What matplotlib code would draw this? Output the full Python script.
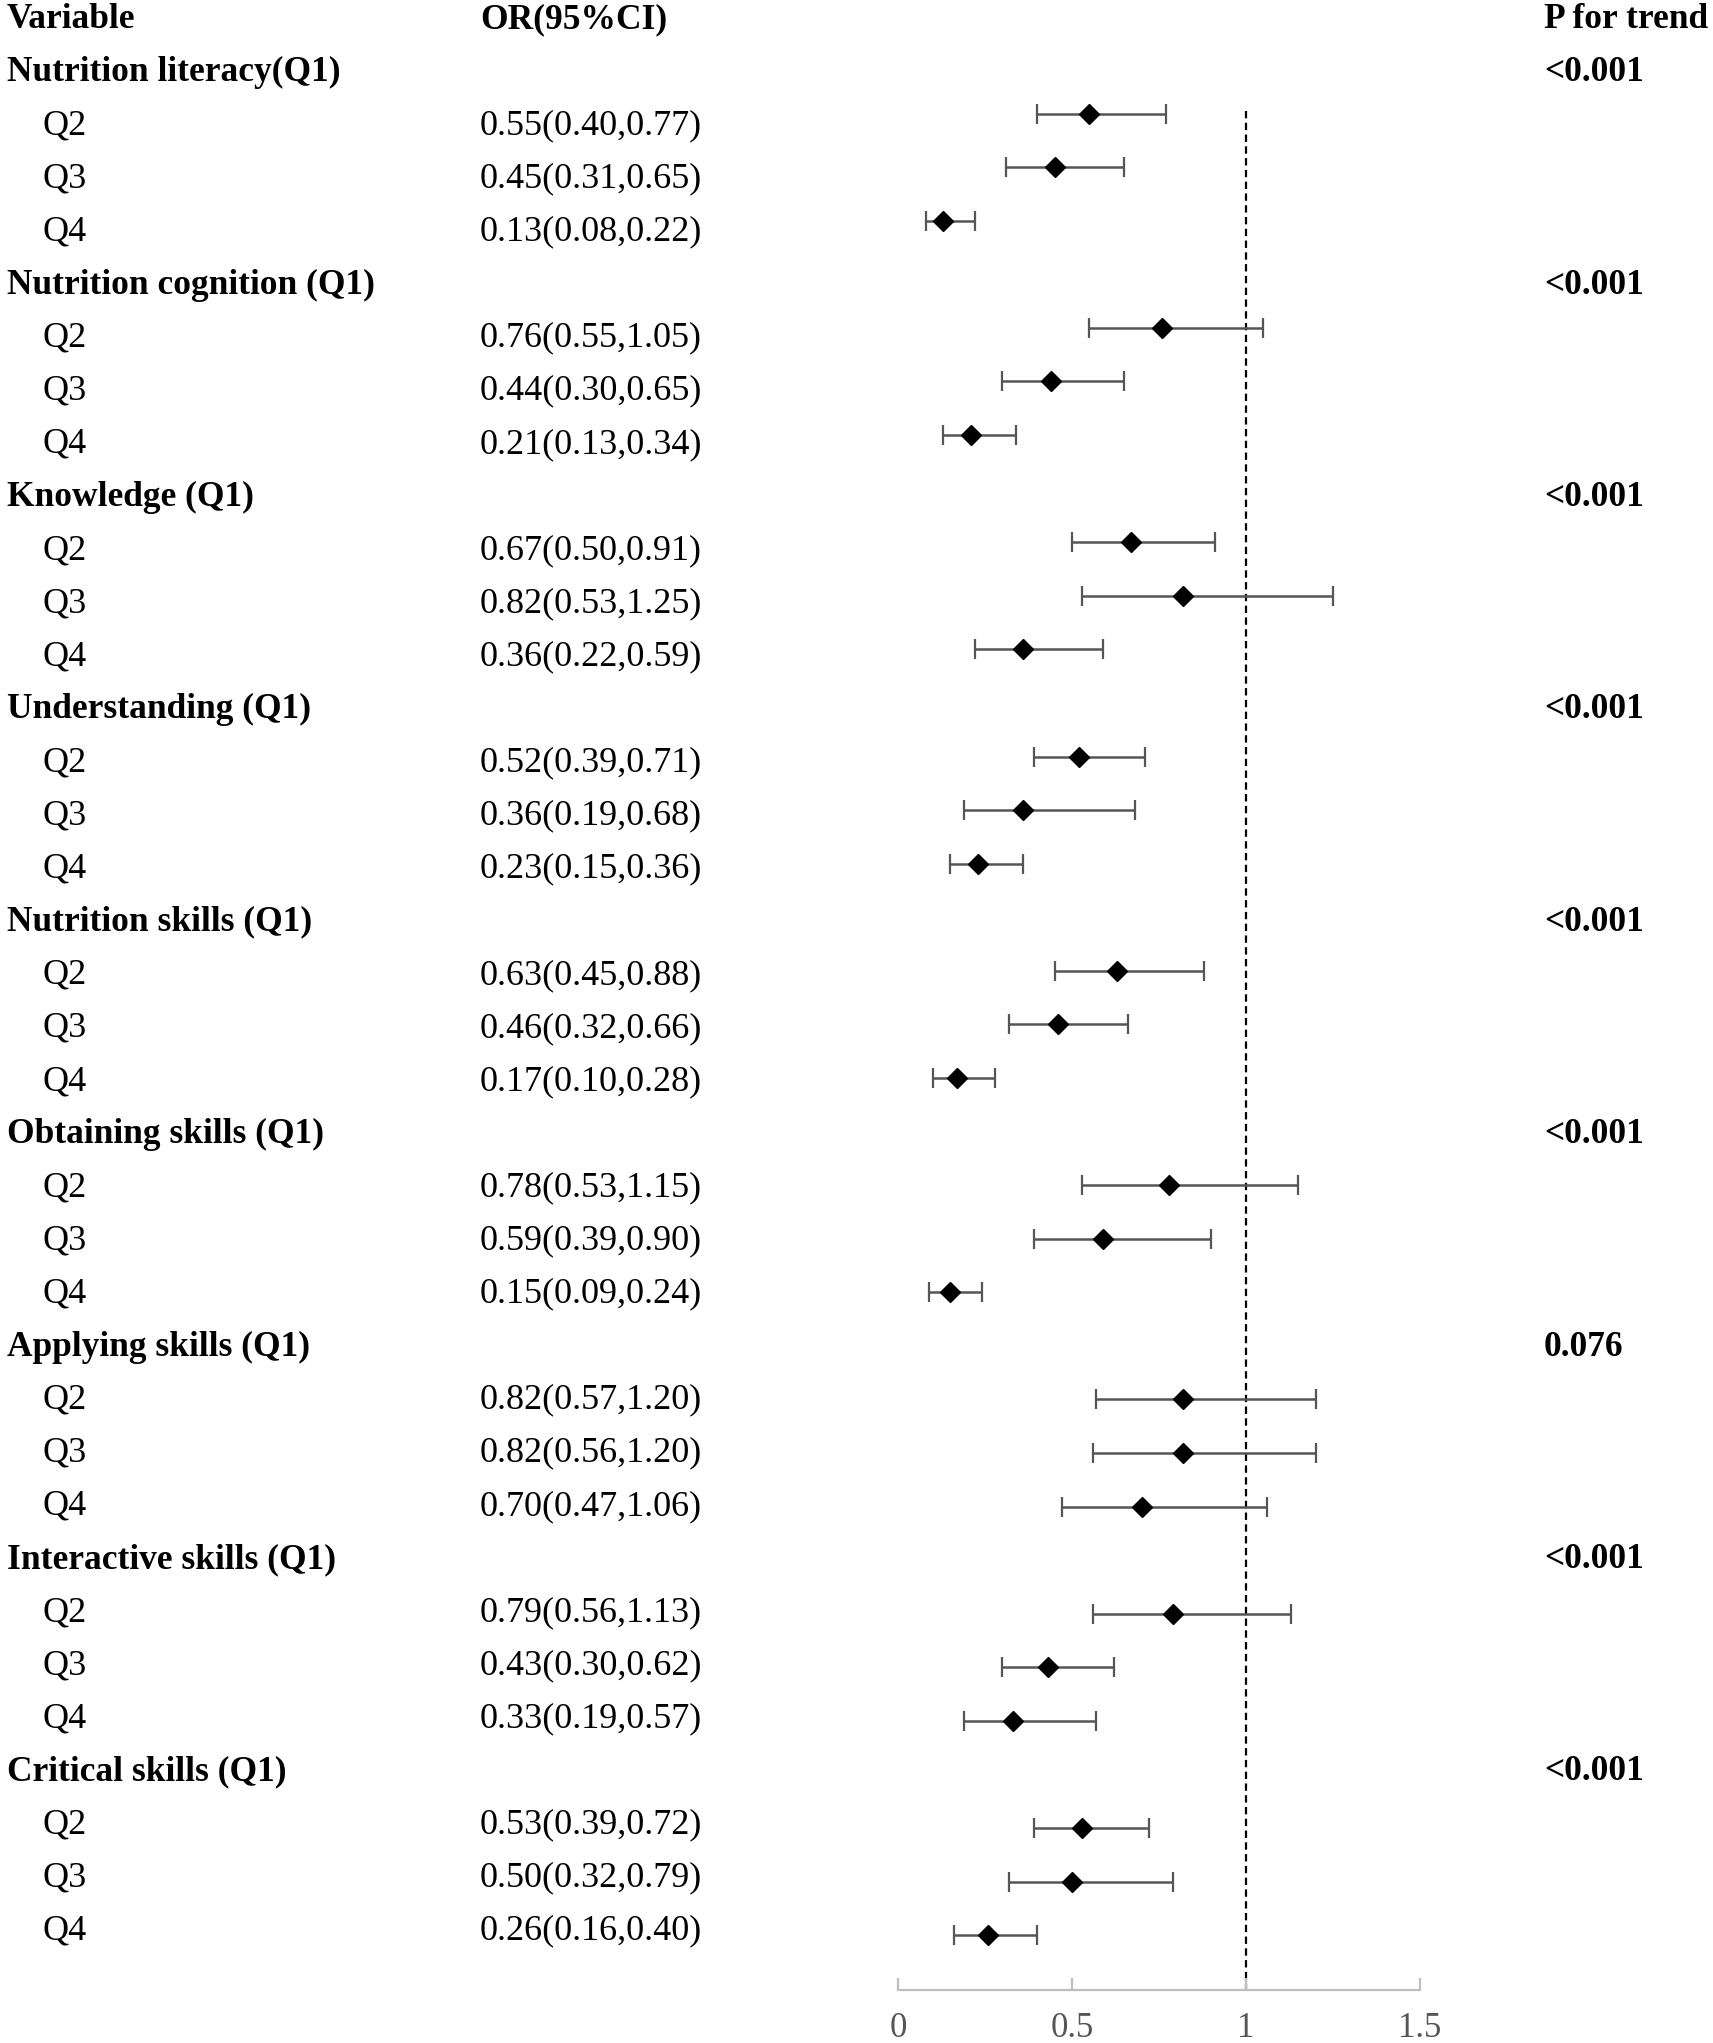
import matplotlib
matplotlib.use('Agg')
import matplotlib.pyplot as plt

# data
groups = ['Nutrition literacy(Q1)', 'Nutrition cognition (Q1)', 'Knowledge (Q1)',
          'Understanding (Q1)', 'Nutrition skills (Q1)', 'Obtaining skills (Q1)',
          'Applying skills (Q1)', 'Interactive skills (Q1)', 'Critical skills (Q1)']
p_trend = ['<0.001', '<0.001', '<0.001', '<0.001', '<0.001', '<0.001',
           '0.076', '<0.001', '<0.001']
quartiles = ['Q2', 'Q3', 'Q4']

or_vals = [0.55, 0.45, 0.13,
           0.76, 0.44, 0.21,
           0.67, 0.82, 0.36,
           0.52, 0.36, 0.23,
           0.63, 0.46, 0.17,
           0.78, 0.59, 0.15,
           0.82, 0.82, 0.70,
           0.79, 0.43, 0.33,
           0.53, 0.50, 0.26]
ci_low = [0.40, 0.31, 0.08,
          0.55, 0.30, 0.13,
          0.50, 0.53, 0.22,
          0.39, 0.19, 0.15,
          0.45, 0.32, 0.10,
          0.53, 0.39, 0.09,
          0.57, 0.56, 0.47,
          0.56, 0.30, 0.19,
          0.39, 0.32, 0.16]
ci_high = [0.77, 0.65, 0.22,
           1.05, 0.65, 0.34,
           0.91, 1.25, 0.59,
           0.71, 0.68, 0.36,
           0.88, 0.66, 0.28,
           1.15, 0.90, 0.24,
           1.20, 1.20, 1.06,
           1.13, 0.62, 0.57,
           0.72, 0.79, 0.40]
x_ticks = [0, 0.5, 1, 1.5]
x_ticklabels = ['0', '0.5', '1', '1.5']

W, H = 1713, 2043
FONT = 'Liberation Serif'
FS = 26
FS_BOLD = 25.5

fig = plt.figure(figsize=(W / 100, H / 100), dpi=100)

# axes: y in row units (row 0 = header row)
ax_top_px, ax_bot_px = 6.4, 1990
ax_left_px, ax_right_px = 898, 1420
ax = fig.add_axes([ax_left_px / W, 1 - ax_bot_px / H,
                   (ax_right_px - ax_left_px) / W, (ax_bot_px - ax_top_px) / H])
row_h = 53.58
ax.set_ylim((ax_bot_px - ax_top_px) / row_h, 0)
ax.set_xlim(0, 1.5)


def text_y(i):
    return 1 - (19.6 + 53.1 * i) / H


# header
fig.text(7 / W, text_y(0), 'Variable', family=FONT, fontsize=FS_BOLD,
         fontweight='bold', va='center')
fig.text(480 / W, text_y(0), 'OR(95%CI)', family=FONT, fontsize=FS_BOLD,
         fontweight='bold', va='center')
fig.text(1544 / W, text_y(0), 'P for trend', family=FONT, fontsize=FS_BOLD,
         fontweight='bold', va='center')

rows_y, xs, lo, hi = [], [], [], []
k = 0
for g, name in enumerate(groups):
    gi = 1 + g * 4
    fig.text(7 / W, text_y(gi), name, family=FONT, fontsize=FS_BOLD,
             fontweight='bold', va='center')
    fig.text(1544 / W, text_y(gi), p_trend[g], family=FONT, fontsize=FS_BOLD,
             fontweight='bold', va='center')
    for q, qn in enumerate(quartiles):
        ri = gi + 1 + q
        fig.text(42 / W, text_y(ri), qn, family=FONT, fontsize=FS, va='center')
        lab = f'{or_vals[k]:.2f}({ci_low[k]:.2f},{ci_high[k]:.2f})'
        fig.text(480 / W, text_y(ri), lab, family=FONT, fontsize=FS, va='center')
        rows_y.append(ri)
        xs.append(or_vals[k])
        lo.append(or_vals[k] - ci_low[k])
        hi.append(ci_high[k] - or_vals[k])
        k += 1

ax.errorbar(xs, rows_y, xerr=[lo, hi], fmt='none', ecolor='#555555',
            elinewidth=1.8, capsize=7, capthick=1.6, zorder=2)
ax.plot(xs, rows_y, 'D', color='black', markersize=10, zorder=3)

ax.vlines(1, 1.95, (ax_bot_px - ax_top_px) / row_h, colors='black', linewidth=1.6,
          linestyles=(0, (3.3, 2)), zorder=1)

for s in ['top', 'right', 'left']:
    ax.spines[s].set_visible(False)
ax.spines['bottom'].set_color('#bfbfbf')
ax.spines['bottom'].set_linewidth(1.6)
ax.set_yticks([])
ax.set_xticks(x_ticks)
ax.set_xticklabels(x_ticklabels, family=FONT, fontsize=FS - 1, color='#555555')
ax.tick_params(axis='x', direction='in', length=9, width=1.6, color='#bfbfbf', pad=16)
ax.patch.set_visible(False)

fig.savefig('out.png', dpi=100)
